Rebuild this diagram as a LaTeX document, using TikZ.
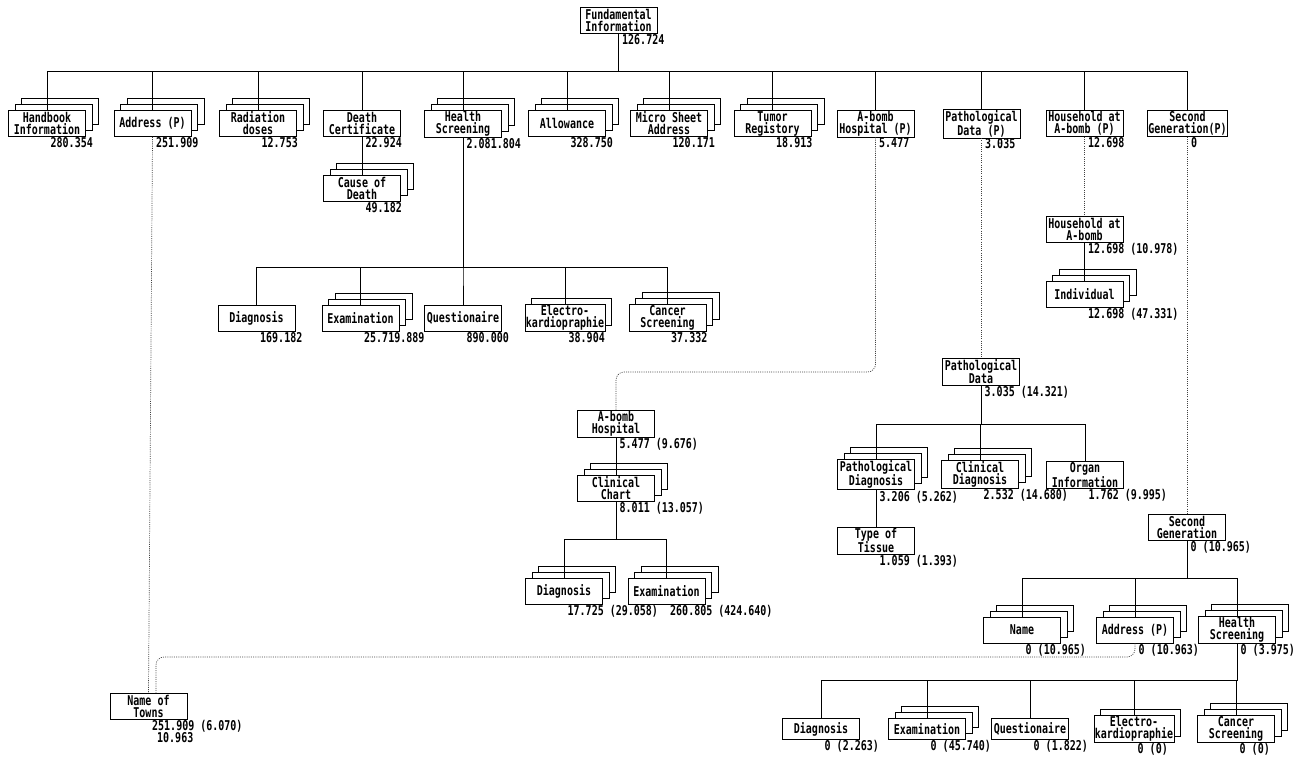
\documentclass[tikz,border=0pt]{standalone}
\usepackage{fontspec}
\usetikzlibrary{positioning,shadows}

\newfontfamily\cajafont[FakeStretch=0.74]{DejaVu Sans Mono}

\tikzset{
    caja/.style={draw, fill=white, line width=0.7pt, minimum width=77pt,
        minimum height=26pt, inner sep=1pt, align=center,
        font=\cajafont\bfseries\fontsize{13.5}{12}\selectfont},
    pila/.style={caja,
        copy shadow={shadow xshift=13pt, shadow yshift=12pt, fill=white, draw},
        copy shadow={shadow xshift=6.5pt, shadow yshift=6pt, fill=white, draw}},
    pilados/.style={caja,
        copy shadow={shadow xshift=6.5pt, shadow yshift=6pt, fill=white, draw}},
    cifra/.style={inner sep=0.5pt, align=left,
        font=\cajafont\bfseries\fontsize{13.5}{12}\selectfont},
    linea/.style={line width=0.7pt},
    punteado/.style={line width=0.7pt, black!75, dash pattern=on 1pt off 1.2pt,
        rounded corners=8pt}
}

% Cifra debajo de la caja, a la derecha de la linea
\newcommand{\cantidad}[2]{\node[cifra, below right=0pt and 3pt of #1.south] (n-#1) {#2};}

\begin{document}
\begin{tikzpicture}[x=1pt,y=-1pt]
        \useasboundingbox (0,0) rectangle (1301,756);

        % Caja raiz
        \node[caja] (fund) at (618.5,20) {Fundamental\\Information};

        % Primer nivel
        \node[pila] (hand) at (47,123.5) {Handbook\\Information};
        \node[pila] (dir) at (152.5,123.5) {Address (P)};
        \node[pila] (rad) at (258,123.5) {Radiation\\doses};
        \node[caja] (def) at (362,123.5) {Death\\Certificate};
        \node[pila] (sal) at (463,123.5) {Health\\Screening};
        \node[pila] (sub) at (567,123.5) {Allowance};
        \node[pila] (micro) at (669,123.5) {Micro Sheet\\Address};
        \node[pila] (tum) at (772.5,123.5) {Tumor\\Registory};
        \node[caja] (hosp) at (875.5,123.5) {A-bomb\\Hospital (P)};
        \node[caja] (pato) at (981.5,123.5) {Pathological\\Data (P)};
        \node[caja] (hog) at (1084.5,123.5) {Household at\\A-bomb (P)};
        \node[caja] (seg) at (1187.5,123.5) {Second\\Generation(P)};

        \node[pila] (causa) at (362,188.5) {Cause of\\Death};

        % Examenes de salud
        \node[caja] (diagA) at (256.5,318) {Diagnosis};
        \node[pila] (examA) at (360.5,318) {Examination};
        \node[caja] (cuesA) at (463,318) {Questionaire};
        \node[pilados] (elecA) at (565,318) {Electro-\\kardiopraphie};
        \node[pila] (cancA) at (667.5,318) {Cancer\\Screening};

        % Hospital
        \node[caja] (hospB) at (616,424) {A-bomb\\Hospital};
        \node[pila] (clin) at (616,488) {Clinical\\Chart};
        \node[pila] (diagB) at (564,591) {Diagnosis};
        \node[pila] (examB) at (666.5,591) {Examination};

        % Datos patologicos
        \node[caja] (patoB) at (981,371.5) {Pathological\\Data};
        \node[pila] (patdiag) at (876,474.5) {Pathological\\Diagnosis};
        \node[pila] (clindiag) at (980,474.5) {Clinical\\Diagnosis};
        \node[caja] (organo) at (1085,475) {Organ\\Information};
        \node[caja] (tejido) at (876,540.5) {Type of\\Tissue};

        % Hogar
        \node[caja] (hogB) at (1084.5,229) {Household at\\A-bomb};
        \node[pila] (indiv) at (1084.5,294) {Individual};

        % Segunda generacion
        \node[caja] (segB) at (1187,527) {Second\\Generation};
        \node[pila] (nom) at (1022,630) {Name};
        \node[pila] (sdir) at (1135,630) {Address (P)};
        \node[pila] (ssal) at (1237,630) {Health\\Screening};

        \node[caja, minimum height=21pt] (diagC) at (821,729) {Diagnosis};
        \node[pila, minimum height=21pt] (examC) at (927,729) {Examination};
        \node[caja, minimum height=21pt] (cuesC) at (1030,729) {Questionaire};
        \node[pilados, minimum height=21pt] (elecC) at (1134,729) {Electro-\\kardiopraphie};
        \node[pila, minimum height=21pt] (cancC) at (1236,729) {Cancer\\Screening};

        \node[caja] (pueblos) at (148.5,706) {Name of\\Towns};

        % Cifras
        \cantidad{fund}{126.724}
        \cantidad{hand}{280.354}
        \cantidad{dir}{251.909}
        \cantidad{rad}{12.753}
        \cantidad{def}{22.924}
        \cantidad{sal}{2.081.804}
        \cantidad{sub}{328.750}
        \cantidad{micro}{120.171}
        \cantidad{tum}{18.913}
        \cantidad{hosp}{5.477}
        \cantidad{pato}{3.035}
        \cantidad{hog}{12.698}
        \cantidad{seg}{0}
        \cantidad{causa}{49.182}
        \cantidad{diagA}{169.182}
        \cantidad{examA}{25.719.889}
        \cantidad{cuesA}{890.000}
        \cantidad{elecA}{38.904}
        \cantidad{cancA}{37.332}
        \cantidad{hospB}{5.477 (9.676)}
        \cantidad{clin}{8.011 (13.057)}
        \cantidad{diagB}{17.725 (29.058)}
        \cantidad{examB}{260.805 (424.640)}
        \cantidad{patoB}{3.035 (14.321)}
        \cantidad{patdiag}{3.206 (5.262)}
        \cantidad{clindiag}{2.532 (14.680)}
        \cantidad{organo}{1.762 (9.995)}
        \cantidad{tejido}{1.059 (1.393)}
        \cantidad{hogB}{12.698 (10.978)}
        \cantidad{indiv}{12.698 (47.331)}
        \cantidad{segB}{0 (10.965)}
        \cantidad{nom}{0 (10.965)}
        \cantidad{sdir}{0 (10.963)}
        \cantidad{ssal}{0 (3.975)}
        \cantidad{diagC}{0 (2.263)}
        \cantidad{examC}{0 (45.740)}
        \cantidad{cuesC}{0 (1.822)}
        \cantidad{elecC}{0 (0)}
        \cantidad{cancC}{0 (0)}
        \cantidad{pueblos}{251.909 (6.070)\\\hspace*{5pt}10.963}

        % Lineas de barras
        \coordinate (busA) at (0,71);
        \coordinate (busB) at (0,267);
        \coordinate (busC) at (0,539);
        \coordinate (busD) at (0,424);
        \coordinate (busE) at (0,578);
        \coordinate (busF) at (0,680);

        \foreach \n in {hand,dir,rad,def,sal,sub,micro,tum,hosp,pato,hog,seg}
            \draw[linea] (fund.south) |- (busA -| \n.north) -- (\n.north);
        \foreach \n in {diagA,examA,cuesA,elecA,cancA}
            \draw[linea] (sal.south) |- (busB -| \n.north) -- (\n.north);
        \foreach \n in {diagB,examB}
            \draw[linea] (clin.south) |- (busC -| \n.north) -- (\n.north);
        \foreach \n in {patdiag,clindiag,organo}
            \draw[linea] (patoB.south) |- (busD -| \n.north) -- (\n.north);
        \foreach \n in {nom,sdir,ssal}
            \draw[linea] (segB.south) |- (busE -| \n.north) -- (\n.north);
        \foreach \n in {diagC,examC,cuesC,elecC,cancC}
            \draw[linea] (ssal.south) |- (busF -| \n.north) -- (\n.north);

        \draw[linea] (def.south) -- (causa.north);
        \draw[linea] (hospB.south) -- (clin.north);
        \draw[linea] (patdiag.south) -- (tejido.north);
        \draw[linea] (hogB.south) -- (indiv.north);

        % Enlaces punteados
        \coordinate (vueltaH) at (0,372);
        \coordinate (vueltaS) at (0,657);
        \coordinate (entrada) at ([xshift=7.5pt]pueblos.north);

        \draw[punteado] (dir.south) -- (pueblos.north);
        \draw[punteado] (hosp.south) |- (vueltaH -| hospB.north) -- (hospB.north);
        \draw[punteado] (pato.south) -- (pato.south |- patoB.north);
        \draw[punteado] (hog.south) -- (hog.south |- hogB.north);
        \draw[punteado] (seg.south) -- (seg.south |- segB.north);
        \draw[punteado] (sdir.south) |- (vueltaS -| entrada) -- (entrada);
\end{tikzpicture}
\end{document}
